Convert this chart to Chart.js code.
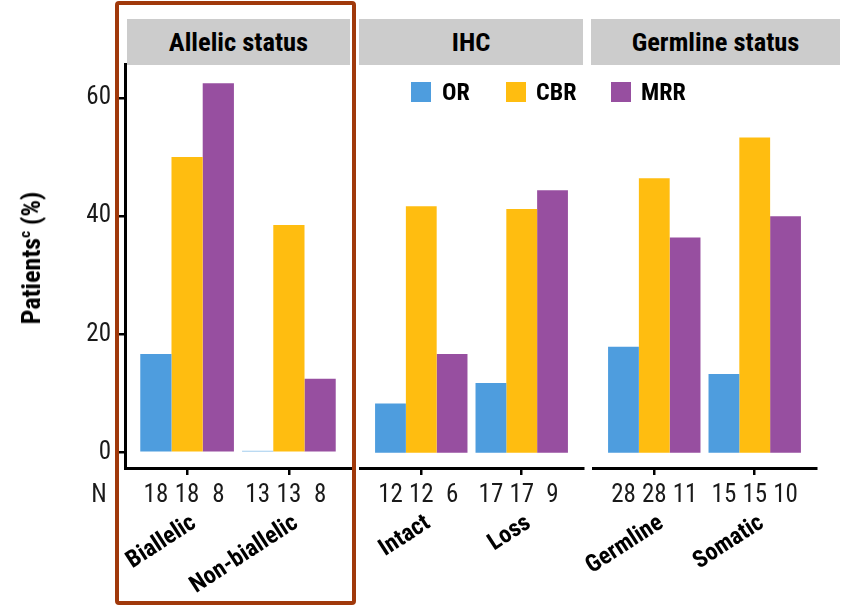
<!DOCTYPE html>
<html>
<head>
<meta charset="utf-8">
<script src="https://cdn.jsdelivr.net/npm/chart.js@4.4.1/dist/chart.umd.min.js"></script>
<style>
  html, body { margin: 0; padding: 0; background: #fff; }
  body { width: 846px; height: 605px; position: relative; overflow: hidden;
         font-family: 'Roboto Condensed', 'Liberation Sans', Arial, sans-serif; }
  canvas { position: absolute; top: 0; }
  .strip { position: absolute; top: 19px; height: 46px; background: #cccccc;
           font-weight: bold; font-size: 26.5px; line-height: 46px; text-align: center; color: #000; }
  .key { position: absolute; width: 20px; height: 20px; top: 82px; }
  .keytxt { position: absolute; top: 77px; font-weight: bold; font-size: 24px; line-height: 30px; color: #000; }
  .ytitle { position: absolute; left: 31px; top: 258px; transform: translate(-50%, -50%) rotate(-90deg);
            white-space: nowrap; font-weight: bold; font-size: 26px; color: #000; }
  .ytitle sup { font-size: 15px; vertical-align: 10px; }
  .frame { position: absolute; left: 115px; top: 1px; width: 241px; height: 604px; box-sizing: border-box;
           border: 4.5px solid #a0390b; border-radius: 4px; pointer-events: none; }
</style>
</head>
<body>
<canvas id="c1" width="360" height="605" style="left:0px"></canvas>
<canvas id="c2" width="270" height="605" style="left:340px"></canvas>
<canvas id="c3" width="276" height="605" style="left:570px"></canvas>

<div class="strip" style="left:127px; width:223px">Allelic status</div>
<div class="strip" style="left:359px; width:224px">IHC</div>
<div class="strip" style="left:591px; width:249px">Germline status</div>

<div class="key" style="left:411px; background:#4e9dde"></div><div class="keytxt" style="left:442px">OR</div>
<div class="key" style="left:506px; background:#ffbd10"></div><div class="keytxt" style="left:536px">CBR</div>
<div class="key" style="left:611px; background:#974fa0"></div><div class="keytxt" style="left:641px">MRR</div>

<div class="ytitle">Patients<sup>c</sup> (%)</div>
<div class="frame"></div>

<script>
// Response rates (%) by subgroup
const seriesNames = ['OR', 'CBR', 'MRR'];
const seriesColors = ['#4e9dde', '#ffbd10', '#974fa0'];

const allelicCats = ['Biallelic', 'Non-biallelic'];
const allelicOR  = [16.7, 0.3];
const allelicCBR = [50.0, 38.5];
const allelicMRR = [62.5, 12.5];
const allelicN   = [[18, 13], [18, 13], [8, 8]];

const ihcCats = ['Intact', 'Loss'];
const ihcOR  = [8.3, 11.8];
const ihcCBR = [41.7, 41.2];
const ihcMRR = [16.7, 44.4];
const ihcN   = [[12, 17], [12, 17], [6, 9]];

const germCats = ['Germline', 'Somatic'];
const germOR  = [17.9, 13.3];
const germCBR = [46.4, 53.3];
const germMRR = [36.4, 40.0];
const germN   = [[28, 15], [28, 15], [11, 10]];

const yTicks = [0, 20, 40, 60];

const FONT = "'Roboto Condensed', 'Liberation Sans', Arial, sans-serif";
const INK = '#1a1a1a';

// Writes the patient count under each bar of the panel
const nRowPlugin = {
  id: 'nRow',
  afterDraw(chart, args, opts) {
    const ctx = chart.ctx;
    const y = chart.scales.x.top + 28;
    ctx.save();
    ctx.font = '25px ' + FONT;
    ctx.fillStyle = INK;
    ctx.textAlign = 'center';
    ctx.textBaseline = 'middle';
    chart.data.datasets.forEach((ds, di) => {
      chart.getDatasetMeta(di).data.forEach((bar, i) => {
        ctx.fillText(String(opts.counts[di][i]), bar.x, y);
      });
    });
    if (opts.showLabel) {
      ctx.fillText('N', 99, y);
    }
    ctx.restore();
  }
};

function makePanel(id, cats, series, counts, withYAxis, padLeft, padRight) {
  const datasets = series.map((vals, si) => ({
    label: seriesNames[si],
    data: vals.map((v, i) => ({ x: i + 1, y: v })),
    backgroundColor: seriesColors[si],
    borderWidth: 0,
    categoryPercentage: 0.92,
    barPercentage: 1.0
  }));
  return new Chart(document.getElementById(id), {
    type: 'bar',
    data: { datasets },
    plugins: [nRowPlugin],
    options: {
      responsive: false,
      animation: false,
      events: [],
      layout: { padding: { left: padLeft, right: padRight, top: 64, bottom: 0 } },
      plugins: {
        legend: { display: false },
        tooltip: { enabled: false },
        nRow: { counts: counts, showLabel: withYAxis }
      },
      scales: {
        x: {
          type: 'linear',
          offset: false,
          min: 0.39,
          max: 2.61,
          afterBuildTicks: (s) => { s.ticks = cats.map((c, i) => ({ value: i + 1 })); },
          afterFit: (s) => { s.height = 137; s.paddingLeft = 0; s.paddingRight = 0; },
          border: { display: true, color: '#000', width: 3 },
          grid: { display: true, offset: false, drawOnChartArea: false, drawTicks: true,
                  tickLength: 7, lineWidth: 2.5, color: '#000' },
          ticks: {
            autoSkip: false,
            minRotation: 33,
            maxRotation: 33,
            padding: 20,
            labelOffset: 7,
            color: '#000',
            font: { family: FONT, size: 24, weight: 'bold', lineHeight: 2.6 },
            callback: (v) => cats[Math.round(v) - 1]
          }
        },
        y: {
          display: withYAxis,
          min: -2.6,
          max: 65.75,
          afterBuildTicks: (s) => { s.ticks = yTicks.map(v => ({ value: v })); },
          afterFit: (s) => { s.width = withYAxis ? 125 : 0; },
          border: { display: true, color: '#000', width: 3 },
          grid: { display: true, drawOnChartArea: false, drawTicks: true,
                  tickLength: 6, lineWidth: 2.5, color: '#000' },
          ticks: {
            padding: 8,
            color: INK,
            font: { family: FONT, size: 25 }
          }
        }
      }
    }
  });
}

makePanel('c1', allelicCats, [allelicOR, allelicCBR, allelicMRR], allelicN, true, 0, 9);
makePanel('c2', ihcCats, [ihcOR, ihcCBR, ihcMRR], ihcN, false, 20, 27);
makePanel('c3', germCats, [germOR, germCBR, germMRR], germN, false, 23, 30);
</script>
</body>
</html>
